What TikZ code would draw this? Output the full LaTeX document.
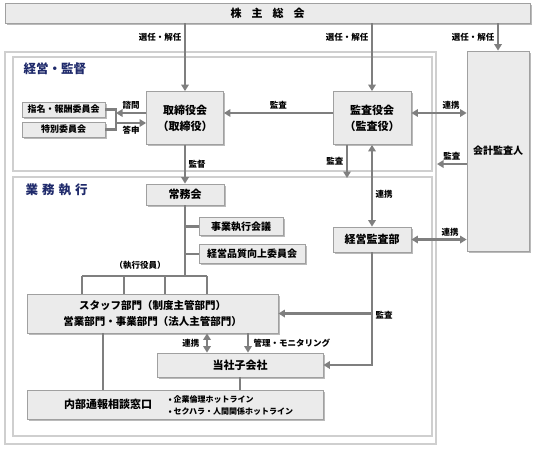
\documentclass[tikz,border=0pt]{standalone}
\usepackage{fontspec}
\setmainfont{Noto Sans CJK JP}
\usetikzlibrary{arrows.meta,shadows}
\definecolor{boxfill}{HTML}{EBEBEB}
\definecolor{boxline}{HTML}{A0A0A0}
\definecolor{arrowgray}{HTML}{7F7F7F}
\definecolor{framegray}{HTML}{CFCFCF}
\definecolor{headblue}{HTML}{1F2A6B}

\begin{document}
\begin{tikzpicture}[x=1pt, y=-1pt,
    box/.style={draw=boxline, fill=boxfill, line width=0.8pt, inner sep=0pt,
      drop shadow={shadow xshift=1.8pt, shadow yshift=-1.8pt, fill=black!45, opacity=0.6},
      font=\bfseries\fontsize{11}{16}\selectfont, align=center},
    smallbox/.style={box, font=\bfseries\fontsize{10}{12}\selectfont},
    lbl/.style={font=\bfseries\fontsize{8.5}{10}\selectfont, inner sep=2.5pt},
    head/.style={font=\bfseries\fontsize{12.5}{14}\selectfont, text=headblue, anchor=west},
    line/.style={draw=arrowgray, line width=2.2pt},
    arr/.style={line, -{Triangle[width=7.5pt,length=6.5pt]}},
    darr/.style={line, {Triangle[width=7.5pt,length=6.5pt]}-{Triangle[width=7.5pt,length=6.5pt]}},
    frame/.style={draw=framegray, line width=1.2pt}]
    \useasboundingbox (0,0) rectangle (534,450);

    % frames
    \draw[frame] (5,52) rectangle (436,444);
    \draw[frame] (13,57) rectangle (432,171);
    \draw[frame] (13,177) rectangle (432,436);
    \node[head] (supervise) at (20,69) {経営・監督};
    \node[head] (operate) at (22,190) {業\hspace{4pt}務\hspace{4pt}執\hspace{4pt}行};

    % boxes
    \node[box, minimum width=525pt, minimum height=20pt] (meeting) at (267.5,13)
        {株\hspace{10pt}主\hspace{10pt}総\hspace{10pt}会};
    \node[box, minimum width=77pt, minimum height=53pt] (board) at (185,118) {取締役会\\（取締役）};
    \node[box, minimum width=78pt, minimum height=53pt] (audit) at (372,118) {監査役会\\（監査役）};
    \node[box, minimum width=62pt, minimum height=200pt,
        font=\bfseries\fontsize{10}{12}\selectfont] (acct) at (498,151) {会計監査人};
    \node[smallbox, minimum width=83pt, minimum height=15pt,
        font=\bfseries\fontsize{9}{11}\selectfont] (nominate) at (63.5,109.5) {指名・報酬委員会};
    \node[smallbox, minimum width=83pt, minimum height=15pt,
        font=\bfseries\fontsize{9}{11}\selectfont] (special) at (63.5,129.5) {特別委員会};
    \node[box, minimum width=78pt, minimum height=21pt] (exec) at (185,194.5) {常務会};
    \node[smallbox, minimum width=84pt, minimum height=18pt] (bizmeet) at (241,226.5) {事業執行会議};
    \node[smallbox, minimum width=106pt, minimum height=19pt] (quality) at (252,254) {経営品質向上委員会};
    \node[box, minimum width=78pt, minimum height=25pt] (adept) at (372,239.5) {経営監査部};
    \node[box, minimum width=251pt, minimum height=39pt,
        font=\bfseries\fontsize{10.5}{16}\selectfont] (staff) at (152.5,313.5)
        {スタッフ部門（制度主管部門）\\営業部門・事業部門（法人主管部門）};
    \node[box, minimum width=166pt, minimum height=24pt] (subsid) at (240,365) {当社子会社};
    \node[box, minimum width=296pt, minimum height=29pt] (hotline) at (175,404.5) {};
    \node[font=\bfseries\fontsize{11}{13}\selectfont] (hlname) at (108,404.5) {内部通報相談窓口};
    \node[anchor=west, align=left, font=\bfseries\fontsize{8}{11.5}\selectfont] (hlitems) at (165,405.5)
        {• 企業倫理ホットライン\\• セクハラ・人間関係ホットライン};
    \node[lbl] (officers) at (140,265) {（執行役員）};

    \coordinate (ask) at (116,113);
    \coordinate (answer) at (116,123);
    \coordinate (outside) at (437,164);
    \coordinate (opstop) at (347,178);
    \coordinate (fork) at (185,276);
    \coordinate (link) at (207,0);
    \coordinate (monitor) at (248,0);
    \coordinate (whistle) at (103,0);

    % shareholders
    \draw[arr] (meeting.south -| board) -- node[lbl, left, pos=0.2] {選任・解任} (board);
    \draw[arr] (meeting.south -| audit) -- node[lbl, left, pos=0.2] {選任・解任} (audit);
    \draw[arr] (meeting.south -| acct) -- node[lbl, left] {選任・解任} (acct);

    % supervision
    \draw[line] (nominate.east) -| (ask |- nominate) -- (answer |- special) -- (special.east);
    \draw[arr] (board.west |- ask) -- node[lbl, above] {諮問} (ask);
    \draw[arr] (answer) -- node[lbl, below] {答申} (board.west |- answer);
    \draw[arr] (audit.west |- ask) -- node[lbl, above] {監査} (board.east |- ask);
    \draw[darr] (audit.east |- ask) -- node[lbl, above, pos=0.72] {連携} (acct.west |- ask);
    \draw[arr] (acct.west |- outside) -- node[lbl, above] {監査} (outside);
    \draw[arr] (board) -- node[lbl, right] {監督} (exec);
    \draw[arr] (audit.south -| opstop) -- node[lbl, left] {監査} (opstop);
    \draw[darr] (audit) -- node[lbl, right, pos=0.6] {連携} (adept);
    \draw[darr] (adept) -- node[lbl, above, pos=0.7] {連携} (adept -| acct.west);

    % operations
    \draw[line] (exec) -- (fork);
    \draw[line] (exec.south |- bizmeet) -- (bizmeet);
    \draw[line] (exec.south |- quality) -- (quality);
    \draw[line] (82,276) -- (207,276);
    \foreach \x in {82,124,165,207}
        \draw[line] (\x,276) -- (staff.north -| \x,0);
    \draw[arr] (adept.south) |- node[lbl, right, pos=0.28] {監査} (subsid.east);
    \draw[arr] (adept.south |- staff) -- (staff);
    \draw[darr] (staff.south -| link) -- node[lbl, left=4pt] {連携} (subsid.north -| link);
    \draw[arr] (staff.south -| monitor) -- node[lbl, right=2pt] {管理・モニタリング} (subsid.north -| monitor);
    \draw[line] (staff.south -| whistle) -- (hotline.north -| whistle);
    \draw[line] (subsid) -- (hotline.north -| subsid);
\end{tikzpicture}
\end{document}
